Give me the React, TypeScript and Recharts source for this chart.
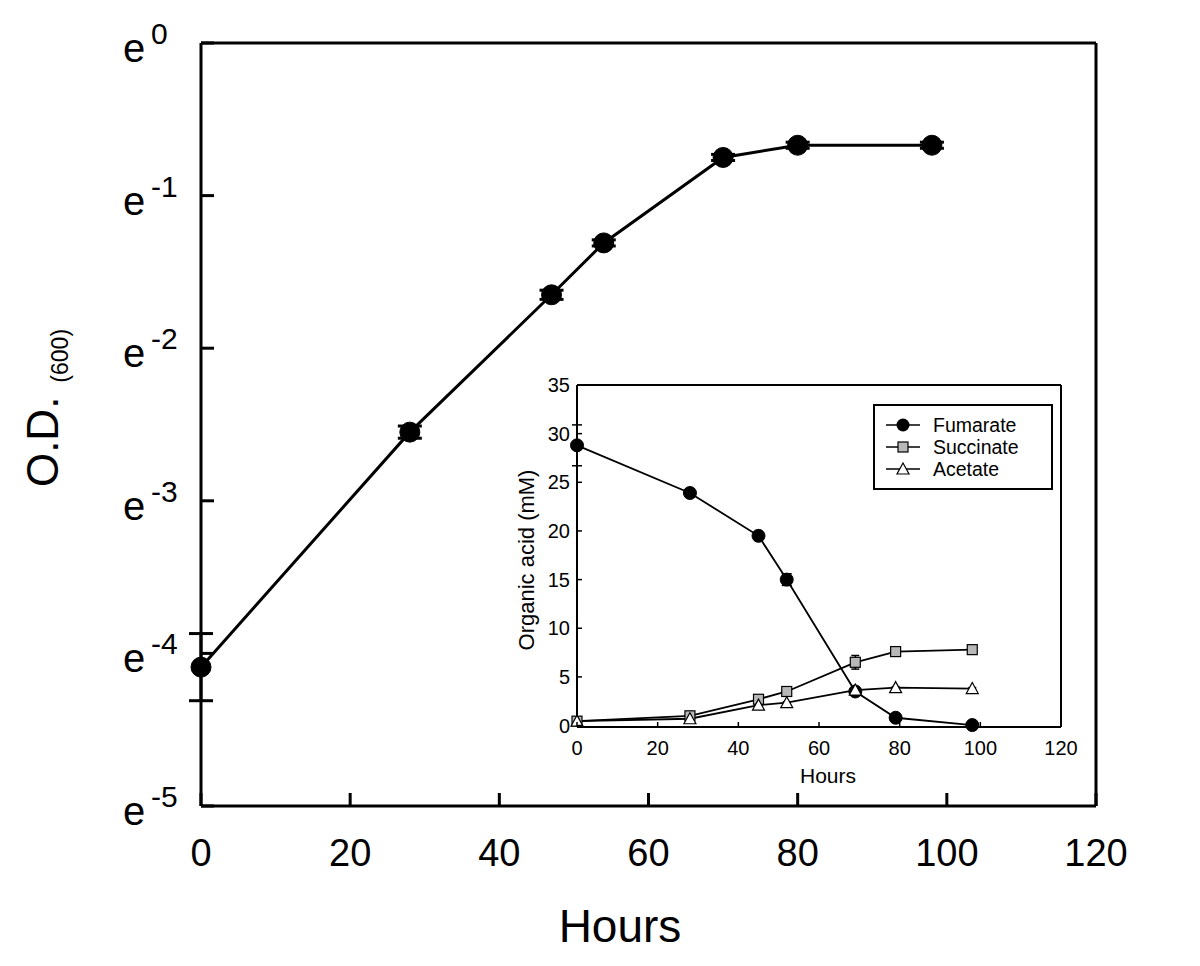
import { ErrorBar, Legend, Line, LineChart, ReferenceLine, XAxis, YAxis } from "recharts";

// main panel: ln(OD600) vs hours
const odHours = [0, 28, 47, 54, 70, 80, 98];
const lnOD = [-4.09, -2.55, -1.65, -1.31, -0.75, -0.67, -0.67];
const lnODErr = [0.22, 0.04, 0.03, 0.02, 0.02, 0.02, 0.02];
const odTicksX = [0, 20, 40, 60, 80, 100, 120];
const odTicksY = [-5, -4, -3, -2, -1, 0];

// inset: organic acids (mM)
const acidHours = [0, 28, 45, 52, 69, 79, 98];
const fumarate = [28.8, 23.9, 19.5, 15.0, 3.5, 0.8, 0.05];
const fumarateErr = [2.1, 0.4, 0.2, 0.6, 0.2, 0.2, 0.2];
const succinate = [0.45, 1.0, 2.7, 3.5, 6.5, 7.6, 7.8];
const succinateErr = [0.1, 0.1, 0.2, 0.2, 0.7, 0.3, 0.1];
const acetate = [0.45, 0.7, 2.1, 2.35, 3.65, 3.9, 3.8];
const acetateErr = [0.05, 0.1, 0.1, 0.1, 0.1, 0.1, 0.1];
const acidTicksX = [0, 20, 40, 60, 80, 100, 120];
const acidTicksY = [0, 5, 10, 15, 20, 25, 30, 35];
const legendNames = ["Fumarate", "Succinate", "Acetate"];

const FONT = "'Liberation Sans', Arial, Helvetica, sans-serif";

const odData = odHours.map((h, i) => ({ h, v: lnOD[i], err: lnODErr[i] }));
const acidData = acidHours.map((h, i) => ({
  h,
  fum: fumarate[i],
  fumErr: fumarateErr[i],
  suc: succinate[i],
  sucErr: succinateErr[i],
  ace: acetate[i],
  aceErr: acetateErr[i],
}));

function ExpTick(props: any) {
  const { x, y, payload } = props;
  return (
    <g>
      <line x1={x} x2={x + 13} y1={y} y2={y} stroke="#000" strokeWidth={3} />
      <text x={x - 78} y={y + 19} fontSize={40} fontFamily={FONT} fill="#000">
        e
      </text>
      <text x={x - 50} y={y + 1} fontSize={30} fontFamily={FONT} fill="#000">
        {payload.value}
      </text>
    </g>
  );
}

function HourTick(props: any) {
  const { x, y, payload } = props;
  return (
    <g>
      <line x1={x} x2={x} y1={y} y2={y - 13} stroke="#000" strokeWidth={3} />
      <text x={x} y={y + 60} fontSize={38} fontFamily={FONT} textAnchor="middle" fill="#000">
        {payload.value}
      </text>
    </g>
  );
}

function InsetTickY(props: any) {
  const { x, y, payload } = props;
  return (
    <g>
      <line x1={x} x2={x + 5} y1={y} y2={y} stroke="#000" strokeWidth={1.5} />
      <text x={x - 7} y={y + 7} fontSize={20} fontFamily={FONT} textAnchor="end" fill="#000">
        {payload.value}
      </text>
    </g>
  );
}

function InsetTickX(props: any) {
  const { x, y, payload } = props;
  return (
    <g>
      <line x1={x} x2={x} y1={y} y2={y - 5} stroke="#000" strokeWidth={1.5} />
      <text x={x} y={y + 28} fontSize={20} fontFamily={FONT} textAnchor="middle" fill="#000">
        {payload.value}
      </text>
    </g>
  );
}

function SquareDot(props: any) {
  const { cx, cy } = props;
  if (cx == null || cy == null) return null;
  return <rect x={cx - 5} y={cy - 5} width={10} height={10} fill="#b8b8b8" stroke="#000" strokeWidth={1.2} />;
}

function TriangleDot(props: any) {
  const { cx, cy } = props;
  if (cx == null || cy == null) return null;
  return (
    <path
      d={`M${cx},${cy - 6} L${cx + 6},${cy + 5} L${cx - 6},${cy + 5} Z`}
      fill="#fff"
      stroke="#000"
      strokeWidth={1.2}
    />
  );
}

function InsetLegend() {
  const rows = [19, 41, 63];
  return (
    <div
      style={{
        width: 180,
        height: 86,
        boxSizing: "border-box",
        border: "2px solid #000",
        background: "#fff",
      }}
    >
      <svg width={176} height={82} style={{ display: "block" }}>
        {legendNames.map((name, i) => {
          const y = rows[i];
          return (
            <g key={name}>
              <line x1={11} x2={45} y1={y} y2={y} stroke="#000" strokeWidth={1.5} />
              {i === 0 && <circle cx={28} cy={y} r={6.5} fill="#000" />}
              {i === 1 && <SquareDot cx={28} cy={y} />}
              {i === 2 && <TriangleDot cx={28} cy={y} />}
              <text x={58} y={y + 7} fontSize={19.5} fontFamily={FONT} fill="#000">
                {name}
              </text>
            </g>
          );
        })}
      </svg>
    </div>
  );
}

export default function App() {
  return (
    <div style={{ position: "absolute", left: 0, top: 0, width: 1200, height: 966, background: "#fff" }}>
      <svg width={1200} height={966} style={{ position: "absolute", left: 0, top: 0 }}>
        <text x={620} y={942} fontSize={46} fontFamily={FONT} textAnchor="middle" fill="#000">
          Hours
        </text>
        <text
          x={58}
          y={408}
          transform="rotate(-90, 58, 408)"
          fontSize={44}
          fontFamily={FONT}
          textAnchor="middle"
          fill="#000"
        >
          O.D.
          <tspan fontSize={23} dx={14} dy={10}>
            (600)
          </tspan>
        </text>
        <text x={828} y={783} fontSize={21} fontFamily={FONT} textAnchor="middle" fill="#000">
          Hours
        </text>
        <text
          x={534}
          y={560}
          transform="rotate(-90, 534, 560)"
          fontSize={22}
          fontFamily={FONT}
          textAnchor="middle"
          fill="#000"
        >
          Organic acid (mM)
        </text>
      </svg>

      <div style={{ position: "absolute", left: 0, top: 0 }}>
        <LineChart width={1200} height={966} data={odData} margin={{ top: 43, right: 104, bottom: 0, left: 0 }}>
          <XAxis
            dataKey="h"
            type="number"
            domain={[0, 120]}
            ticks={odTicksX}
            height={160}
            tickSize={0}
            tickMargin={0}
            tick={<HourTick />}
            tickLine={false}
            axisLine={{ stroke: "#000", strokeWidth: 3 }}
          />
          <YAxis
            type="number"
            domain={[-5, 0]}
            ticks={odTicksY}
            width={201}
            tickSize={0}
            tickMargin={0}
            tick={<ExpTick />}
            tickLine={false}
            axisLine={{ stroke: "#000", strokeWidth: 3 }}
          />
          <ReferenceLine y={0} stroke="#000" strokeWidth={3} />
          <ReferenceLine x={120} stroke="#000" strokeWidth={3} />
          <Line
            dataKey="v"
            stroke="#000"
            strokeWidth={3}
            dot={{ r: 10, fill: "#000", stroke: "#000", strokeWidth: 1 }}
            activeDot={false}
            isAnimationActive={false}
          >
            <ErrorBar dataKey="err" direction="y" width={12} stroke="#000" strokeWidth={3} isAnimationActive={false} />
          </Line>
        </LineChart>
      </div>

      <div style={{ position: "absolute", left: 490, top: 375 }}>
        <LineChart width={590} height={420} data={acidData} margin={{ top: 10, right: 19, bottom: 0, left: 0 }}>
          <XAxis
            dataKey="h"
            type="number"
            domain={[0, 120]}
            ticks={acidTicksX}
            height={68}
            tickSize={0}
            tickMargin={0}
            tick={<InsetTickX />}
            tickLine={false}
            axisLine={{ stroke: "#000", strokeWidth: 2 }}
          />
          <YAxis
            type="number"
            domain={[0, 35]}
            ticks={acidTicksY}
            width={87}
            tickSize={0}
            tickMargin={0}
            tick={<InsetTickY />}
            tickLine={false}
            axisLine={{ stroke: "#000", strokeWidth: 2 }}
          />
          <ReferenceLine y={35} stroke="#000" strokeWidth={2} />
          <ReferenceLine x={120} stroke="#000" strokeWidth={2} />
          <Legend
            layout="vertical"
            align="center"
            verticalAlign="middle"
            content={() => <InsetLegend />}
            wrapperStyle={{ left: 383, top: 29, width: 180, height: 86 }}
          />
          <Line
            dataKey="fum"
            name="Fumarate"
            stroke="#000"
            strokeWidth={1.8}
            dot={{ r: 6.5, fill: "#000", stroke: "#000", strokeWidth: 1 }}
            activeDot={false}
            isAnimationActive={false}
          >
            <ErrorBar dataKey="fumErr" direction="y" width={5} stroke="#000" strokeWidth={1.5} isAnimationActive={false} />
          </Line>
          <Line
            dataKey="suc"
            name="Succinate"
            stroke="#000"
            strokeWidth={1.8}
            dot={<SquareDot />}
            activeDot={false}
            isAnimationActive={false}
          >
            <ErrorBar dataKey="sucErr" direction="y" width={4} stroke="#000" strokeWidth={1.5} isAnimationActive={false} />
          </Line>
          <Line
            dataKey="ace"
            name="Acetate"
            stroke="#000"
            strokeWidth={1.8}
            dot={<TriangleDot />}
            activeDot={false}
            isAnimationActive={false}
          >
            <ErrorBar dataKey="aceErr" direction="y" width={4} stroke="#000" strokeWidth={1.5} isAnimationActive={false} />
          </Line>
        </LineChart>
      </div>
    </div>
  );
}
